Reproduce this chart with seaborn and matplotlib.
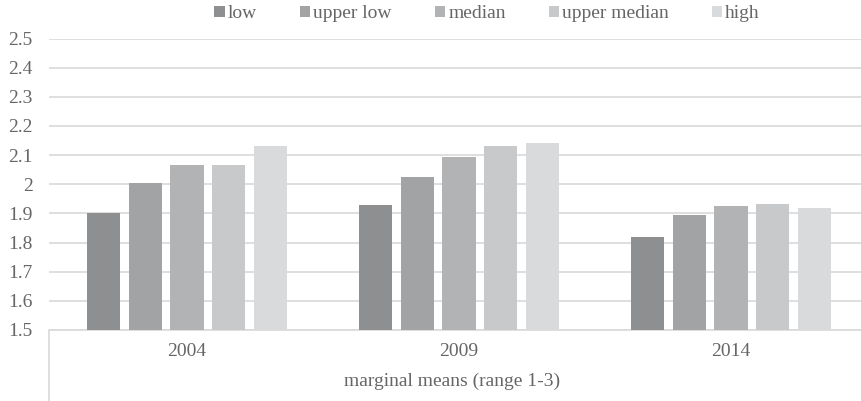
import matplotlib
matplotlib.use("Agg")
import matplotlib.pyplot as plt
import seaborn as sns
import pandas as pd

years = ["2004", "2009", "2014"]
levels = ["low", "upper low", "median", "upper median", "high"]
low = [1.90, 1.93, 1.82]
upper_low = [2.003, 2.025, 1.895]
median = [2.065, 2.095, 1.927]
upper_median = [2.065, 2.13, 1.932]
high = [2.13, 2.14, 1.918]
yticks = [1.5, 1.6, 1.7, 1.8, 1.9, 2.0, 2.1, 2.2, 2.3, 2.4, 2.5]
ytick_labels = ["1.5", "1.6", "1.7", "1.8", "1.9", "2", "2.1", "2.2", "2.3", "2.4", "2.5"]
axis_title = "marginal means (range 1-3)"

colors = ["#8e8f91", "#a2a3a5", "#b2b3b4", "#c8c9ca", "#d9dadb"]
text_color = "#666666"
grid_color = "#d9d9d9"

series = [low, upper_low, median, upper_median, high]
rows = []
for lvl, vals in zip(levels, series):
    for yr, v in zip(years, vals):
        rows.append({"year": yr, "level": lvl, "value": v})
df = pd.DataFrame(rows)

sns.set_theme(style="white")
plt.rcParams["font.family"] = ["Liberation Serif", "DejaVu Serif"]

W, H = 862, 401
fig = plt.figure(figsize=(W / 100, H / 100), dpi=100)
ax = fig.add_axes([49.5 / W, 1 - 330 / H, 819 / W, 291.5 / H])

sns.barplot(data=df, x="year", y="value", hue="level", hue_order=levels,
            order=years, palette=colors, width=0.77, gap=0.21,
            errorbar=None, linewidth=0, ax=ax, zorder=3)

ax.set_ylim(1.5, 2.5)
ax.set_yticks(yticks)
ax.set_yticklabels(ytick_labels)
ax.grid(axis="y", color=grid_color, linewidth=1.2, zorder=0)
ax.set_axisbelow(True)
ax.tick_params(axis="y", length=0, pad=12, labelsize=14, labelcolor=text_color)
ax.tick_params(axis="x", length=0, pad=9, labelsize=14, labelcolor=text_color)
ax.set_xlabel("")
ax.set_ylabel("")
for s in ["top", "right", "left"]:
    ax.spines[s].set_visible(False)
ax.spines["bottom"].set_color(grid_color)
ax.spines["bottom"].set_linewidth(1.2)

# category box line below the axis
ax.plot([0, 0], [0, -75 / 291.5], transform=ax.transAxes, color=grid_color,
        linewidth=1.2, clip_on=False)

fig.text(452 / W, 1 - 381 / H, axis_title, ha="center", va="center",
         fontsize=14, color=text_color)

sns.move_legend(ax, "center", bbox_to_anchor=(487 / W, 1 - 14 / H),
                bbox_transform=fig.transFigure, ncol=5, frameon=False,
                title=None, fontsize=14, handlelength=0.55, handleheight=0.55,
                handletextpad=0.15, columnspacing=2.2, labelcolor=text_color)

fig.savefig("out.png", dpi=100)
